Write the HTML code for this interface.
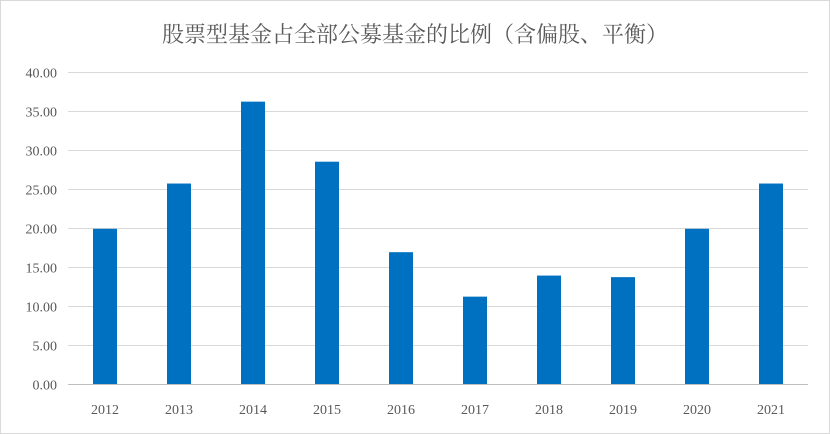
<!DOCTYPE html>
<html><head><meta charset="utf-8"><style>
body{margin:0;background:#fff}
#wrap{position:relative;width:830px;height:434px;overflow:hidden}
svg text{font-family:"Liberation Serif","Noto Serif CJK SC",serif}
</style></head><body>
<div id="wrap">
<svg id="chart" width="830" height="434">
<rect x="0.5" y="0.5" width="829" height="433" fill="#fff" stroke="#d9d9d9"/>
<text x="415" y="42" text-anchor="middle" font-size="22" fill="#595959" style="font-family:'Noto Serif CJK SC','Liberation Serif',serif">股票型基金占全部公募基金的比例（含偏股、平衡）</text>
<g id="grid"></g><g id="bars"></g><g id="xlabels"></g><g id="ylabels"></g>
</svg>
</div>
<script>
const categories=["2012","2013","2014","2015","2016","2017","2018","2019","2020","2021"];
const values=[19.9,25.7,36.2,28.5,16.9,11.2,13.9,13.7,19.9,25.7];
const yTicks=[0,5,10,15,20,25,30,35,40];
const yTickLabels=["0.00","5.00","10.00","15.00","20.00","25.00","30.00","35.00","40.00"];
const NS="http://www.w3.org/2000/svg";
const x0=68,x1=808,y0=384,y1=72,yMax=40;
const band=(x1-x0)/categories.length;
function yScale(v){return y0-(v/yMax)*(y0-y1);}
function xCenter(i){return x0+band*(i+0.5);}
function mk(tag,attrs,parent){const e=document.createElementNS(NS,tag);for(const k in attrs)e.setAttribute(k,attrs[k]);parent.appendChild(e);return e;}
const grid=document.getElementById('grid'),bars=document.getElementById('bars'),xl=document.getElementById('xlabels'),yl=document.getElementById('ylabels');
yTicks.forEach((t,i)=>{
  const y=Math.round(yScale(t))+0.5;
  const l=mk('line',{x1:x0,x2:x1,y1:y,y2:y,stroke:i===0?'#bfbfbf':'#d9d9d9','stroke-width':1},grid);
  
  
  const tx=mk('text',{x:57,y:y+5,'text-anchor':'end','font-size':14,fill:'#595959'},yl);
  tx.textContent=yTickLabels[i];
  
  
});
categories.forEach((c,i)=>{
  const w=24,cx=xCenter(i),top=yScale(values[i]);
  const r=mk('rect',{x:cx-w/2,y:top,width:w,height:y0-top,fill:'#0070c0'},bars);
  
  
  const tx=mk('text',{x:cx,y:414,'text-anchor':'middle','font-size':14,fill:'#595959'},xl);
  tx.textContent=c;
  
  
});
</script>
</body></html>
